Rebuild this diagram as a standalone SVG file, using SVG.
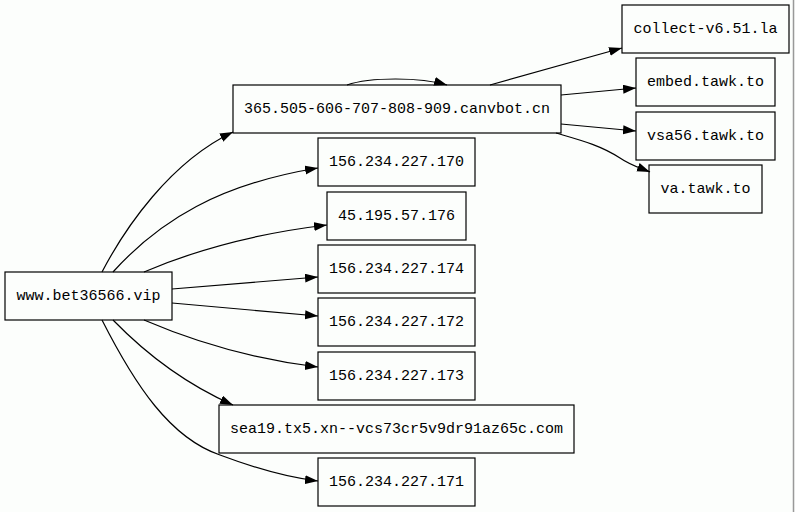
<svg xmlns="http://www.w3.org/2000/svg" width="795" height="512" viewBox="0 0 795 512">
<style>
.n rect{fill:none;stroke:#000;stroke-width:1.2}
.n text{font-family:"Liberation Mono",monospace;font-size:15px;fill:#000;text-anchor:middle;dominant-baseline:central}
.e path{fill:none;stroke:#000;stroke-width:1.2;marker-end:url(#a)}
</style>
<defs>
<marker id="a" markerUnits="userSpaceOnUse" markerWidth="14" markerHeight="10" refX="13" refY="4.5" orient="auto"><path d="M0,0 L13,4.5 L0,9 z" fill="#000"/></marker>
</defs>
<rect width="795" height="512" fill="#fcfefc"/>
<line x1="793.5" y1="0" x2="793.5" y2="512" stroke="#999" stroke-width="1.5"/>
<g class="e">
<path d="M102,272 C125,228 170,162 233,132"/>
<path d="M113,272 C160,220 220,184 318,168"/>
<path d="M144,272 C200,248 260,233 327,225"/>
<path d="M172,289 L318,277"/>
<path d="M172,303 L318,316"/>
<path d="M144,320 C200,344 260,360 318,367"/>
<path d="M113,320 C150,358 190,386 233,405"/>
<path d="M102,320 C135,385 170,438 220,455 C260,470 290,478 318,481"/>
<path d="M347,85 C370,77 420,77 447,85"/>
<path d="M490,85 L622,48"/>
<path d="M561,95 L636,88"/>
<path d="M561,124 L636,131"/>
<path d="M556,133 C580,140 600,145 620,158 C630,165 640,168 650,172"/>
</g>
<g id="n1" class="n"><rect x="5" y="272" width="167" height="48"/><text x="88.5" y="296">www.bet36566.vip</text></g>
<g id="n2" class="n"><rect x="233" y="85" width="328" height="48"/><text x="397" y="109">365.505-606-707-808-909.canvbot.cn</text></g>
<g id="n3" class="n"><rect x="318" y="138" width="157" height="48"/><text x="396.5" y="162">156.234.227.170</text></g>
<g id="n4" class="n"><rect x="327" y="192" width="139" height="48"/><text x="396.5" y="216">45.195.57.176</text></g>
<g id="n5" class="n"><rect x="318" y="245" width="157" height="48"/><text x="396.5" y="269">156.234.227.174</text></g>
<g id="n6" class="n"><rect x="318" y="298" width="157" height="48"/><text x="396.5" y="322">156.234.227.172</text></g>
<g id="n7" class="n"><rect x="318" y="352" width="157" height="48"/><text x="396.5" y="376">156.234.227.173</text></g>
<g id="n8" class="n"><rect x="219" y="405" width="355" height="48"/><text x="396.5" y="429">sea19.tx5.xn--vcs73cr5v9dr91az65c.com</text></g>
<g id="n9" class="n"><rect x="318" y="458" width="157" height="48"/><text x="396.5" y="482">156.234.227.171</text></g>
<g id="n10" class="n"><rect x="622" y="5" width="167" height="48"/><text x="705.5" y="29">collect-v6.51.la</text></g>
<g id="n11" class="n"><rect x="636" y="58" width="139" height="48"/><text x="705.5" y="82">embed.tawk.to</text></g>
<g id="n12" class="n"><rect x="636" y="112" width="139" height="48"/><text x="705.5" y="136">vsa56.tawk.to</text></g>
<g id="n13" class="n"><rect x="649" y="165" width="113" height="48"/><text x="705.5" y="189">va.tawk.to</text></g>
</svg>
